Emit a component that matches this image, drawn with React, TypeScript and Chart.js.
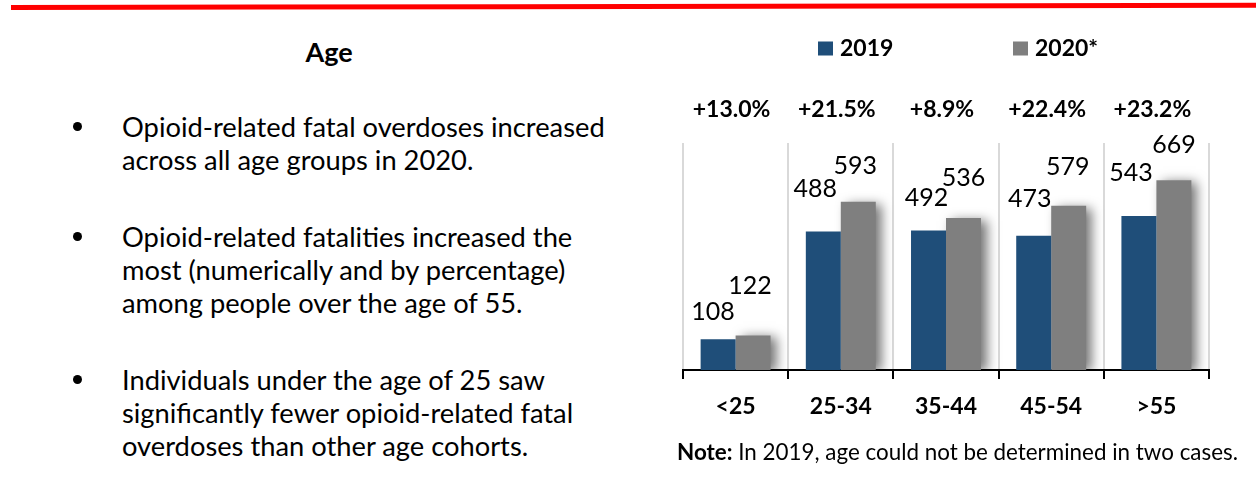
import React, { useEffect, useRef } from "react";
import { Chart, registerables } from "chart.js";

Chart.register(...registerables);

const categories = ["<25", "25-34", "35-44", "45-54", ">55"];
const values2019 = [108, 488, 492, 473, 543];
const values2020 = [122, 593, 536, 579, 669];
const seriesNames = ["2019", "2020*"];
const seriesColors = ["#1f4e79", "#7f7f7f"];
const changeLabels = ["+13.0%", "+21.5%", "+8.9%", "+22.4%", "+23.2%"];

const FONT = "Lato, 'Open Sans', sans-serif";

const bullets = [
  ["Opioid-related fatal overdoses increased", "across all age groups in 2020."],
  [
    "Opioid-related fatalities increased the",
    "most (numerically and by percentage)",
    "among people over the age of 55.",
  ],
  [
    "Individuals under the age of 25 saw",
    "significantly fewer opioid-related fatal",
    "overdoses than other age cohorts.",
  ],
];
const bulletTops = [110, 220, 363];

// placement of the value labels above each bar (style, not data): [dx, dy]
const labelNudges = [
  [[-5, 27], [-8, 43], [-2, 32], [-4, 37], [-8, 43]],
  [[-3, 49], [-3, 36], [0, 40], [-1, 39], [0, 35]],
];

const shadowPlugin = {
  id: "barShadow",
  beforeDatasetDraw(chart: any, args: any) {
    if (args.index !== 1) return;
    const ctx = chart.ctx;
    ctx.save();
    ctx.shadowColor = "rgba(0,0,0,0.55)";
    ctx.shadowBlur = 11;
    ctx.shadowOffsetX = 6;
    ctx.shadowOffsetY = 2;
  },
  afterDatasetDraw(chart: any, args: any) {
    if (args.index !== 1) return;
    chart.ctx.restore();
  },
};

const annotatePlugin = {
  id: "annotate",
  afterDraw(chart: any) {
    const ctx = chart.ctx;
    ctx.save();
    ctx.fillStyle = "#000";
    ctx.textAlign = "center";
    ctx.textBaseline = "middle";
    // value labels
    ctx.font = `25px ${FONT}`;
    chart.data.datasets.forEach((ds: any, di: number) => {
      const meta = chart.getDatasetMeta(di);
      meta.data.forEach((bar: any, i: number) => {
        const [dx, dy] = labelNudges[di][i];
        ctx.fillText(String(ds.data[i]), bar.x + dx, bar.y - dy);
      });
    });
    // change labels
    const xs = chart.scales.x;
    ctx.font = `bold 23px ${FONT}`;
    changeLabels.forEach((t, i) => {
      ctx.fillText(t, xs.getPixelForTick(i) - 4, 110);
    });
    // legend
    const legendX = [158, 353];
    chart.data.datasets.forEach((ds: any, di: number) => {
      ctx.fillStyle = ds.backgroundColor;
      ctx.fillRect(legendX[di], 41.5, 15, 14);
      ctx.fillStyle = "#000";
      ctx.textAlign = "left";
      ctx.fillText(ds.label, legendX[di] + 22, 49);
    });
    ctx.restore();
  },
};

function AgeChart() {
  const ref = useRef<HTMLCanvasElement | null>(null);
  useEffect(() => {
    if (!ref.current) return;
    const chart = new Chart(ref.current, {
      type: "bar",
      data: {
        labels: categories,
        datasets: [
          {
            label: seriesNames[0],
            data: values2019,
            backgroundColor: seriesColors[0],
            borderWidth: 0,
          },
          {
            label: seriesNames[1],
            data: values2020,
            backgroundColor: seriesColors[1],
            borderWidth: 0,
          },
        ],
      },
      options: {
        animation: false,
        responsive: false,
        maintainAspectRatio: false,
        devicePixelRatio: 1,
        layout: { padding: { top: 143, left: 23, right: 47, bottom: 20 } },
        datasets: {
          bar: { categoryPercentage: 0.665, barPercentage: 1.0 },
        },
        plugins: {
          legend: { display: false },
          tooltip: { enabled: false },
        },
        scales: {
          x: {
            offset: true,
            afterFit: (scale: any) => {
              scale.height = 50;
            },
            grid: {
              display: true,
              offset: true,
              color: "#d9d9d9",
              lineWidth: 2,
              drawTicks: true,
              tickLength: 9,
              tickColor: "#000",
              tickWidth: 2,
            },
            border: { display: true, color: "#000", width: 2 },
            ticks: {
              color: "#000",
              padding: 14,
              font: { family: FONT, size: 23, weight: "bold" },
            },
          },
          y: {
            display: false,
            min: 0,
            max: 800,
          },
        },
      },
      plugins: [shadowPlugin, annotatePlugin],
    });
    return () => chart.destroy();
  }, []);
  return (
    <canvas
      ref={ref}
      width={596}
      height={440}
      style={{ position: "absolute", left: 660, top: 0, width: 596, height: 440 }}
    />
  );
}

export default function App() {
  return (
    <div
      style={{
        position: "absolute",
        left: 0,
        top: 0,
        width: 1256,
        height: 479,
        background: "#fff",
        overflow: "hidden",
        fontFamily: FONT,
        color: "#000",
      }}
    >
      <div
        style={{
          position: "absolute",
          left: 11,
          top: 5,
          width: 1250,
          height: 5,
          background: "#ff0000",
          transform: "rotate(-0.1deg)",
          transformOrigin: "left center",
        }}
      />
      <div
        style={{
          position: "absolute",
          left: 0,
          top: 37,
          width: 658,
          textAlign: "center",
          fontWeight: "bold",
          fontSize: 27,
          lineHeight: "30px",
        }}
      >
        Age
      </div>
      {bullets.map((lines, bi) => (
        <React.Fragment key={bi}>
          <div
            style={{
              position: "absolute",
              left: 73,
              top: bulletTops[bi] + 12,
              width: 9,
              height: 9,
              borderRadius: "50%",
              background: "#000",
            }}
          />
          <div
            style={{
              position: "absolute",
              left: 122,
              top: bulletTops[bi],
              fontSize: 27.3,
              lineHeight: "33px",
              whiteSpace: "nowrap",
            }}
          >
            {lines.map((l, li) => (
              <div key={li}>{l}</div>
            ))}
          </div>
        </React.Fragment>
      ))}
      <AgeChart />
      <div
        style={{
          position: "absolute",
          left: 677,
          top: 439,
          fontSize: 22.4,
          lineHeight: "26px",
          whiteSpace: "nowrap",
        }}
      >
        <b>Note:</b> In 2019, age could not be determined in two cases.
      </div>
    </div>
  );
}
